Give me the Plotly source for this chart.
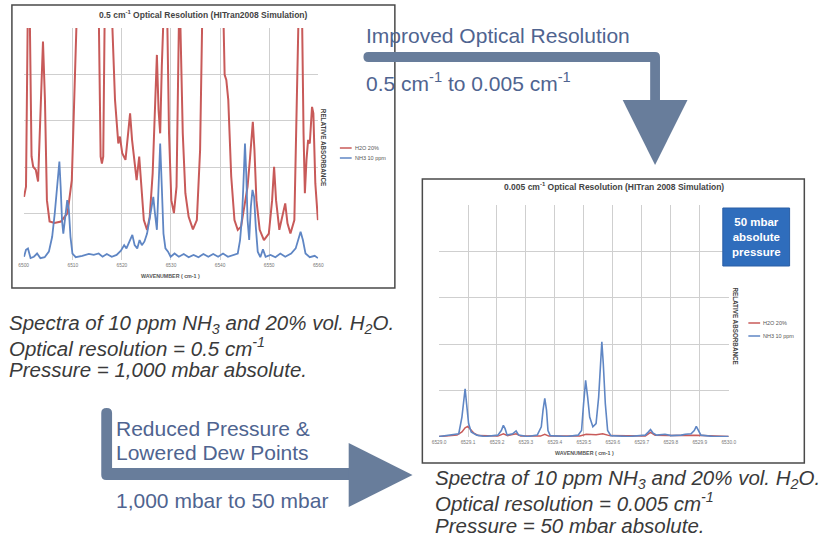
import plotly.graph_objects as go

W, H = 830, 542

# ---------------- data: top chart (0.5 cm-1 resolution, 1000 mbar) ----------------
top_x_red = [0.07, 0.47, 0.8, 1.0, 1.27, 1.6, 1.93, 2.47, 2.93, 3.47, 3.93, 4.33, 4.73, 5.27, 6.27, 7.6,
             8.93, 9.8, 10.27, 10.73, 11.5, 14.5, 15.33, 15.67, 15.93, 16.2, 16.47, 17.3, 18.07, 18.6,
             19.27, 19.6, 20.07, 20.73, 21.27, 21.67, 22.07, 22.6, 23.0, 23.53, 23.93, 24.47, 25.13,
             25.67, 26.27, 26.73, 27.13, 27.47, 27.8, 28.13, 28.4, 29.0, 29.27, 29.6, 30.07, 30.6,
             31.13, 31.6, 31.93, 32.4, 32.93, 33.6, 34.47, 35.27, 35.93, 36.33, 37.5, 40.0, 40.73,
             40.93, 41.27, 41.67, 42.27, 42.93, 43.6, 44.27, 44.93, 45.6, 46.07, 46.47, 46.67, 47.0,
             47.4, 48.07, 48.93, 49.93, 50.6, 51.0, 51.4, 52.07, 52.73, 53.27, 53.73, 54.33, 55.13,
             55.67, 55.93, 56.3, 56.73, 57.0, 57.27, 57.6, 57.93, 58.27, 58.73, 59.0, 59.4, 59.93]
top_y_red = [1.36, 1.58, 5.0, 5.6, 5.0, 2.23, 2.01, 1.94, 1.69, 3.45, 4.71, 3.45, 1.29, 0.83, 0.80, 0.83,
             1.01, 1.72, 3.45, 5.0, 5.6, 5.6, 5.0, 2.23, 2.08, 2.23, 5.0, 5.6, 5.0, 3.45,
             2.51, 2.66, 2.30, 2.16, 2.73, 3.16, 2.59, 2.01, 1.72, 2.23, 1.58, 0.86, 0.65,
             0.93, 1.87, 3.23, 4.42, 3.23, 2.73, 4.17, 5.0, 5.6, 5.0, 2.73, 1.29, 1.01,
             1.58, 5.0, 5.0, 2.73, 1.44, 0.93, 0.66, 0.86, 2.37, 5.0, 5.6, 5.6, 5.0,
             3.99, 3.88, 3.45, 1.80, 0.86, 0.65, 0.72, 1.15, 1.58, 2.16, 2.73, 2.98, 2.37,
             1.29, 0.65, 0.43, 0.57, 1.29, 2.01, 1.29, 0.65, 0.93, 1.22, 0.79, 0.57, 0.86,
             3.45, 5.0, 5.6, 5.0, 2.73, 1.44, 2.16, 2.59, 2.51, 3.30, 3.16, 1.65, 0.86]

top_x_blue = [0.07, 0.47, 0.87, 1.4, 2.07, 2.73, 3.4, 4.27, 5.13, 5.8, 6.33, 6.73, 7.07, 7.27, 7.53, 7.8,
              8.07, 8.47, 8.87, 9.2, 9.53, 9.93, 10.6, 11.93, 13.27, 14.27, 15.27, 16.07, 16.93, 17.93,
              18.93, 19.8, 20.47, 20.93, 21.6, 22.13, 22.6, 23.13, 23.6, 24.07, 24.6, 25.13, 25.6,
              26.07, 26.4, 26.73, 27.13, 27.47, 27.8, 28.13, 28.47, 28.87, 29.4, 29.93, 30.73, 31.6,
              32.6, 33.6, 34.6, 35.6, 36.6, 37.6, 38.6, 39.6, 40.6, 41.6, 42.6, 43.6, 44.07, 44.47,
              44.73, 45.07, 45.33, 45.6, 45.93, 46.27, 46.6, 46.93, 47.27, 47.67, 48.2, 48.73, 49.27,
              50.27, 51.27, 52.27, 53.27, 54.47, 55.4, 55.93, 56.4, 56.87, 57.4, 58.27, 59.27, 59.93]
top_y_blue = [0.07, 0.22, 0.25, 0.04, 0.07, 0.14, 0.04, 0.06, 0.18, 0.50, 1.01, 1.44, 1.80, 2.12, 1.58, 0.86,
              0.57, 1.01, 1.29, 1.08, 0.50, 0.14, 0.06, 0.09, 0.13, 0.11, 0.14, 0.07, 0.13, 0.07,
              0.11, 0.20, 0.32, 0.25, 0.43, 0.54, 0.32, 0.25, 0.43, 0.32, 0.40, 0.57, 0.86,
              1.15, 1.36, 1.01, 0.65, 1.58, 2.51, 1.58, 0.57, 0.25, 0.18, 0.07, 0.14, 0.07,
              0.13, 0.06, 0.11, 0.06, 0.13, 0.07, 0.13, 0.07, 0.14, 0.07, 0.11, 0.14, 0.43, 0.93,
              1.58, 2.51, 1.87, 0.86, 0.43, 1.15, 1.51, 1.36, 0.72, 0.18, 0.06, 0.23, 0.07,
              0.11, 0.06, 0.14, 0.07, 0.14, 0.25, 0.47, 0.61, 0.43, 0.14, 0.06, 0.09, 0.04]

top_x0 = 6500
top_ticks = [6500, 6510, 6520, 6530, 6540, 6550, 6560]

# ---------------- data: bottom chart (0.005 cm-1 resolution, 50 mbar) ----------------
bot_x_blue = [0.0, 0.045, 0.068, 0.079, 0.086, 0.090, 0.095, 0.102, 0.111, 0.130, 0.158, 0.203, 0.215,
              0.222, 0.228, 0.235, 0.254, 0.266, 0.275, 0.305, 0.339, 0.353, 0.359, 0.365, 0.371,
              0.376, 0.384, 0.441, 0.480, 0.492, 0.499, 0.506, 0.513, 0.520, 0.531, 0.542, 0.551,
              0.557, 0.562, 0.567, 0.574, 0.582, 0.593, 0.655, 0.712, 0.723, 0.730, 0.738, 0.751,
              0.780, 0.802, 0.836, 0.850, 0.870, 0.881, 0.888, 0.895, 0.904, 0.949, 1.0]
bot_y_blue = [0.01, 0.04, 0.07, 0.43, 0.86, 1.04, 0.72, 0.29, 0.11, 0.04, 0.01, 0.04, 0.14,
              0.25, 0.18, 0.04, 0.07, 0.13, 0.04, 0.01, 0.04, 0.22, 0.58, 0.83, 0.58,
              0.14, 0.03, 0.01, 0.04, 0.14, 0.72, 1.22, 0.86, 0.43, 0.22, 0.29, 0.86,
              1.58, 2.05, 1.58, 0.72, 0.14, 0.03, 0.01, 0.04, 0.11, 0.16, 0.09, 0.04,
              0.06, 0.03, 0.04, 0.06, 0.07, 0.14, 0.23, 0.14, 0.04, 0.01, 0.01]

bot_x_red = [0.0, 0.062, 0.079, 0.090, 0.099, 0.107, 0.119, 0.136, 0.203, 0.222, 0.237, 0.266, 0.282,
             0.350, 0.365, 0.379, 0.486, 0.508, 0.542, 0.565, 0.588, 0.712, 0.730, 0.746, 0.791,
             0.887, 1.0]
bot_y_red = [0.01, 0.04, 0.11, 0.20, 0.23, 0.18, 0.09, 0.03, 0.02, 0.07, 0.03, 0.07, 0.02,
             0.02, 0.06, 0.02, 0.02, 0.06, 0.05, 0.07, 0.03, 0.02, 0.10, 0.04, 0.03,
             0.04, 0.01]

bot_x0 = 6529.0
bot_ticks = [6529.0, 6529.1, 6529.2, 6529.3, 6529.4, 6529.5, 6529.6, 6529.7, 6529.8, 6529.9, 6530.0]

series_names = ["H2O 20%", "NH3 10 ppm"]

RED = "#C85A59"
BLUE = "#5F86C4"
ARROW = "#687D9B"
ATXT = "#4F6490"
CAP = "#3A3A3A"
FONT = "Liberation Sans, Arial, sans-serif"


def px(x):
    return x / W


def py(y):
    return 1 - y / H


def P(x, y):
    return f"{px(x):.5f},{py(y):.5f}"


fig = go.Figure()

fig.add_trace(go.Scatter(x=[top_x0 + v for v in top_x_red], y=top_y_red, mode="lines",
                         line=dict(color=RED, width=2), name=series_names[0],
                         xaxis="x", yaxis="y", showlegend=False))
fig.add_trace(go.Scatter(x=[top_x0 + v for v in top_x_blue], y=top_y_blue, mode="lines",
                         line=dict(color=BLUE, width=1.8), name=series_names[1],
                         xaxis="x", yaxis="y", showlegend=False))
fig.add_trace(go.Scatter(x=[bot_x0 + v for v in bot_x_red], y=bot_y_red, mode="lines",
                         line=dict(color=RED, width=1.5), name=series_names[0],
                         xaxis="x2", yaxis="y2", showlegend=False))
fig.add_trace(go.Scatter(x=[bot_x0 + v for v in bot_x_blue], y=bot_y_blue, mode="lines",
                         line=dict(color=BLUE, width=1.6), name=series_names[1],
                         xaxis="x2", yaxis="y2", showlegend=False))

grid = "#CFCFCF"
tickfont = dict(family=FONT, size=4.8, color="#777")

fig.update_layout(
    width=W, height=H, margin=dict(l=0, r=0, t=0, b=0),
    paper_bgcolor="white", plot_bgcolor="white",
    font=dict(family=FONT),
    xaxis=dict(domain=[px(17), px(317)], range=[top_ticks[0], top_ticks[-1]], tickvals=top_ticks,
               showgrid=True, gridcolor=grid, zeroline=False, showline=False, ticks="",
               tickfont=tickfont, anchor="y", ticklabelstandoff=1),
    yaxis=dict(domain=[py(260), py(28)], range=[0, 5], dtick=1, showgrid=True, gridcolor=grid,
               zeroline=False, showticklabels=False, anchor="x"),
    xaxis2=dict(domain=[px(440), px(735)], range=[bot_ticks[0], bot_ticks[-1]], tickvals=bot_ticks,
                tickformat=".1f", showgrid=True, gridcolor=grid, zeroline=False, showline=False,
                ticks="", tickfont=tickfont, anchor="y2", ticklabelstandoff=1),
    yaxis2=dict(domain=[py(437), py(205)], range=[0, 5], dtick=1, showgrid=True, gridcolor=grid,
                zeroline=False, showticklabels=False, anchor="x2"),
)

shapes = []
# chart frames
shapes.append(dict(type="rect", xref="paper", yref="paper", x0=px(5), x1=px(395), y0=py(288), y1=py(5),
                   line=dict(color="#4A4A4A", width=1.5), layer="above"))
shapes.append(dict(type="rect", xref="paper", yref="paper", x0=px(423), x1=px(812), y0=py(463), y1=py(179),
                   line=dict(color="#4A4A4A", width=1.5), layer="above"))
# legend swatches
for (lx, ly, col) in [(339, 148, RED), (339, 158, BLUE), (755, 323, RED), (755, 336, BLUE)]:
    shapes.append(dict(type="line", xref="paper", yref="paper", x0=px(lx), x1=px(lx + 12),
                       y0=py(ly), y1=py(ly), line=dict(color=col, width=1.5)))
# top arrow (bent)
shapes.append(dict(type="path", xref="paper", yref="paper",
                   path=f"M {P(368,52)} L {P(660,52)} Q {P(665,52)} {P(665,57)} L {P(665,101)} L {P(655,101)} "
                        f"L {P(655,62)} L {P(368,62)} Q {P(363,62)} {P(363,57)} Q {P(363,52)} {P(368,52)} Z",
                   fillcolor=ARROW, line=dict(width=0)))
shapes.append(dict(type="path", xref="paper", yref="paper",
                   path=f"M {P(627,100)} L {P(693,100)} L {P(660,165)} Z",
                   fillcolor=ARROW, line=dict(width=0)))
# bottom arrow (bent)
shapes.append(dict(type="path", xref="paper", yref="paper",
                   path=f"M {P(96,413)} Q {P(96,408)} {P(101.5,408)} Q {P(107,408)} {P(107,413)} L {P(107,468)} "
                        f"L {P(349,468)} L {P(349,480)} L {P(101,480)} Q {P(96,480)} {P(96,475)} Z",
                   fillcolor=ARROW, line=dict(width=0)))
shapes.append(dict(type="path", xref="paper", yref="paper",
                   path=f"M {P(348,443)} L {P(413,475)} L {P(348,507)} Z",
                   fillcolor=ARROW, line=dict(width=0)))
# blue callout box
shapes.append(dict(type="rect", xref="paper", yref="paper", x0=px(729), x1=px(797), y0=py(266), y1=py(208),
                   fillcolor="#2F6DBC", line=dict(color="#2A5EA5", width=1), layer="above"))
fig.update_layout(shapes=shapes)

ann = []


def text(x, y, s, size, color, xanchor="left", italic=False, bold=False, angle=0):
    style = "italic" if italic else "normal"
    weight = "bold" if bold else "normal"
    ann.append(dict(xref="paper", yref="paper", x=px(x), y=py(y), text=s, showarrow=False,
                    xanchor=xanchor, yanchor="middle", textangle=angle,
                    align=xanchor if xanchor != "center" else "center", borderpad=0,
                    font=dict(family=FONT, size=size, color=color, style=style, weight=weight)))


# chart titles and axis titles
text(200, 15, "0.5 cm<sup>-1</sup> Optical Resolution (HITran2008 Simulation)", 8.5, "#444", "center", bold=True)
text(167, 276, "WAVENUMBER ( cm-1 )", 5.3, "#555", "center", bold=True)
text(323, 147, "RELATIVE ABSORBANCE", 6.3, "#444", "center", bold=True, angle=90)
text(618, 186, "0.005 cm<sup>-1</sup> Optical Resolution (HITran 2008 Simulation)", 8.5, "#444", "center", bold=True)
text(588, 453, "WAVENUMBER ( cm-1 )", 5.3, "#555", "center", bold=True)
text(742, 326, "RELATIVE ABSORBANCE", 6.3, "#444", "center", bold=True, angle=90)

# legend labels
text(353, 148, series_names[0], 5.5, "#555")
text(353, 158, series_names[1], 5.5, "#555")
text(769, 323, series_names[0], 5.5, "#555")
text(769, 336, series_names[1], 5.5, "#555")

# callout box text
text(763, 237, "50 mbar<br>absolute<br>pressure", 11.5, "white", "center", bold=True)

# arrow labels
text(365, 35, "Improved Optical Resolution", 21, ATXT)
text(365, 82, "0.5 cm<sup>-1</sup> to 0.005 cm<sup>-1</sup>", 21, ATXT)
text(110, 428, "Reduced Pressure &", 21, ATXT)
text(110, 452, "Lowered Dew Points", 21, ATXT)
text(110, 500, "1,000 mbar to 50 mbar", 21, ATXT)

# captions
text(1, 324, "Spectra of 10 ppm NH<sub>3</sub> and 20% vol. H<sub>2</sub>O.", 20.5, CAP, italic=True)
text(1, 347, "Optical resolution = 0.5 cm<sup>-1</sup>", 20.5, CAP, italic=True)
text(1, 369, "Pressure = 1,000 mbar absolute.", 20.5, CAP, italic=True)
text(435, 479, "Spectra of 10 ppm NH<sub>3</sub> and 20% vol. H<sub>2</sub>O.", 20.5, CAP, italic=True)
text(435, 502, "Optical resolution = 0.005 cm<sup>-1</sup>", 20.5, CAP, italic=True)
text(435, 525, "Pressure = 50 mbar absolute.", 20.5, CAP, italic=True)

fig.update_layout(annotations=ann)

fig.write_html("out.html", config={"displayModeBar": False},
               post_script="document.body.style.margin='0';document.body.style.overflow='hidden';")
